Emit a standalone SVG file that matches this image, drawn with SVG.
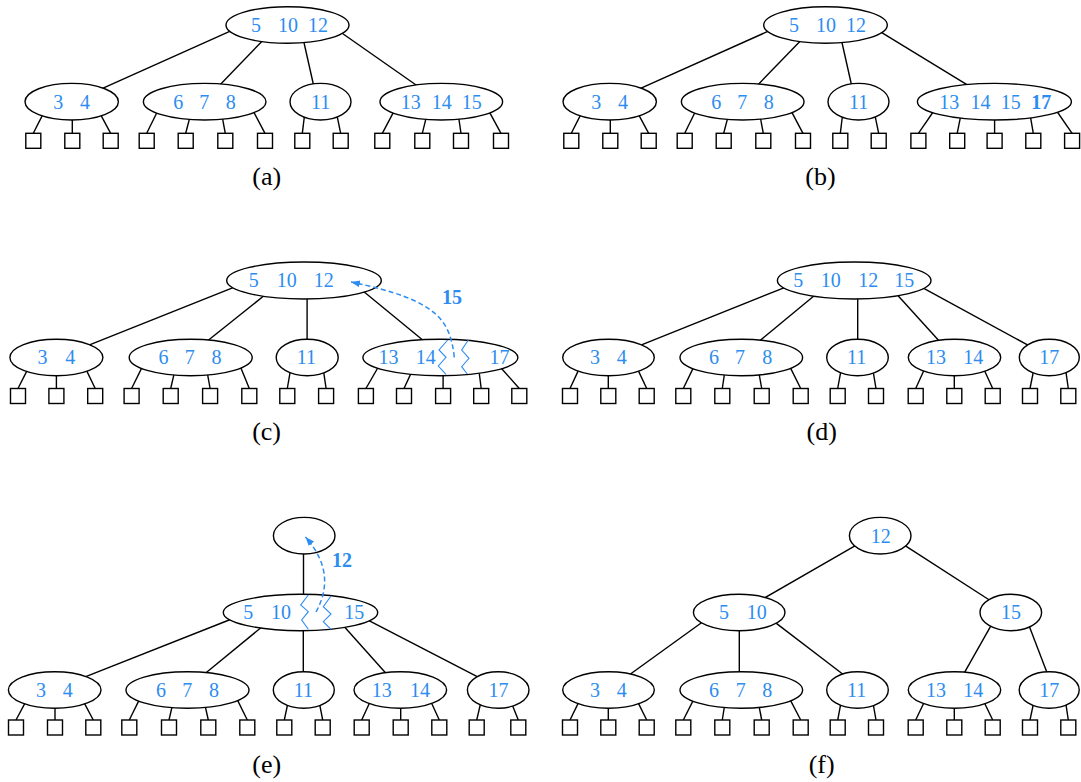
<svg xmlns="http://www.w3.org/2000/svg" width="1081" height="782" viewBox="0 0 1081 782">
<style>
.n{fill:#fff;stroke:#000;stroke-width:1.4}
.leaf{fill:#fff;stroke:#000;stroke-width:1.4}
.e{stroke:#000;stroke-width:1.4;fill:none}
.k{font-family:"Liberation Serif","Times New Roman",serif;font-size:20px;fill:#2d8cf0;text-anchor:middle}
.kb{font-weight:bold}
.lab{font-family:"Liberation Serif","Times New Roman",serif;font-size:26px;fill:#000;text-anchor:middle}
.zz{fill:none;stroke:#2d8cf0;stroke-width:1.1}
.da{fill:none;stroke:#2d8cf0;stroke-width:1.5;stroke-dasharray:5 3}
</style>
<defs>
<marker id="ah" markerUnits="userSpaceOnUse" markerWidth="10" markerHeight="8" refX="9" refY="3.5" orient="auto">
<path d="M0,0 L9,3.5 L0,7 z" fill="#2d8cf0"/>
</marker>
</defs>
<rect width="1081" height="782" fill="#fff"/>

<g id="connectors">
<!-- (a) -->
<line class="e" x1="231.4" y1="30.7" x2="100.3" y2="89.3"/>
<line class="e" x1="262.8" y1="40.4" x2="217.9" y2="86.9"/>
<line class="e" x1="303.4" y1="40" x2="314.2" y2="88"/>
<line class="e" x1="340" y1="31.7" x2="419.3" y2="87.3"/>
<line class="e" x1="43.5" y1="113.1" x2="33.3" y2="133.3"/>
<line class="e" x1="72.3" y1="116" x2="72.3" y2="133.3"/>
<line class="e" x1="99.8" y1="113.2" x2="110.7" y2="133.3"/>
<line class="e" x1="157.8" y1="110.7" x2="146.7" y2="133.3"/>
<line class="e" x1="190.3" y1="115.6" x2="185.7" y2="133.3"/>
<line class="e" x1="222" y1="115.6" x2="225.3" y2="133.3"/>
<line class="e" x1="253.1" y1="110.8" x2="265" y2="133.3"/>
<line class="e" x1="304.8" y1="113" x2="302.3" y2="133.3"/>
<line class="e" x1="336.5" y1="113.1" x2="340.7" y2="133.3"/>
<line class="e" x1="394.2" y1="110.8" x2="382.3" y2="133.3"/>
<line class="e" x1="426.7" y1="115.6" x2="422.3" y2="133.3"/>
<line class="e" x1="458.4" y1="115.5" x2="461" y2="133.3"/>
<line class="e" x1="488.8" y1="110.8" x2="501" y2="133.3"/>
<!-- (b) -->
<line class="e" x1="769.4" y1="30.7" x2="638.3" y2="89.3"/>
<line class="e" x1="800.8" y1="40.4" x2="755.9" y2="86.9"/>
<line class="e" x1="841.4" y1="40" x2="852.2" y2="88"/>
<line class="e" x1="879.3" y1="31.2" x2="971" y2="87.1"/>
<line class="e" x1="581.5" y1="113.1" x2="571.3" y2="133.3"/>
<line class="e" x1="610.3" y1="116" x2="610.3" y2="133.3"/>
<line class="e" x1="637.8" y1="113.2" x2="648.7" y2="133.3"/>
<line class="e" x1="695.8" y1="110.7" x2="684.7" y2="133.3"/>
<line class="e" x1="728.3" y1="115.6" x2="723.7" y2="133.3"/>
<line class="e" x1="760" y1="115.6" x2="763.3" y2="133.3"/>
<line class="e" x1="791.1" y1="110.8" x2="803" y2="133.3"/>
<line class="e" x1="842.8" y1="113" x2="840.3" y2="133.3"/>
<line class="e" x1="874.5" y1="113.1" x2="878.7" y2="133.3"/>
<line class="e" x1="934.5" y1="110" x2="918.4" y2="133.3"/>
<line class="e" x1="960.8" y1="115.4" x2="957.2" y2="133.3"/>
<line class="e" x1="994.6" y1="116" x2="994.6" y2="133.3"/>
<line class="e" x1="1030.2" y1="115.4" x2="1033.3" y2="133.3"/>
<line class="e" x1="1056" y1="110" x2="1072.1" y2="133.3"/>
<!-- (c) -->
<line class="e" x1="235" y1="286.8" x2="87" y2="345.8"/>
<line class="e" x1="265.2" y1="294.8" x2="206.4" y2="341.8"/>
<line class="e" x1="307.1" y1="295" x2="307.1" y2="343"/>
<line class="e" x1="362.1" y1="290.2" x2="424.8" y2="341.8"/>
<line class="e" x1="27.8" y1="369.1" x2="18" y2="388.5"/>
<line class="e" x1="56.4" y1="372" x2="56.4" y2="388.5"/>
<line class="e" x1="85.9" y1="369.1" x2="95.2" y2="388.5"/>
<line class="e" x1="143" y1="365.4" x2="131.6" y2="388.5"/>
<line class="e" x1="174.7" y1="371.1" x2="170.7" y2="388.5"/>
<line class="e" x1="207" y1="371.1" x2="210.1" y2="388.5"/>
<line class="e" x1="239.8" y1="365.3" x2="249.3" y2="388.5"/>
<line class="e" x1="290.8" y1="368.1" x2="287.3" y2="388.5"/>
<line class="e" x1="323.1" y1="368.1" x2="326.1" y2="388.5"/>
<line class="e" x1="378.6" y1="366.5" x2="365.9" y2="388.5"/>
<line class="e" x1="411.9" y1="371.4" x2="404" y2="388.5"/>
<line class="e" x1="443.1" y1="372" x2="443.1" y2="388.5"/>
<line class="e" x1="479" y1="371.1" x2="481.2" y2="388.5"/>
<line class="e" x1="499.7" y1="366.5" x2="519.3" y2="388.5"/>
<!-- (d) -->
<line class="e" x1="786.4" y1="286.8" x2="639" y2="345.8"/>
<line class="e" x1="815.4" y1="294.8" x2="757.6" y2="342.5"/>
<line class="e" x1="857.7" y1="295" x2="857.7" y2="343"/>
<line class="e" x1="896.3" y1="293.7" x2="941" y2="343"/>
<line class="e" x1="921.5" y1="287.1" x2="1031.2" y2="346.9"/>
<line class="e" x1="579" y1="369.1" x2="570" y2="388.5"/>
<line class="e" x1="608.3" y1="372" x2="608.3" y2="388.5"/>
<line class="e" x1="637.6" y1="369.1" x2="646.7" y2="388.5"/>
<line class="e" x1="694.5" y1="365.4" x2="683.3" y2="388.5"/>
<line class="e" x1="724.9" y1="371" x2="722.3" y2="388.5"/>
<line class="e" x1="758.6" y1="371.1" x2="761.7" y2="388.5"/>
<line class="e" x1="789.2" y1="365.4" x2="800.7" y2="388.5"/>
<line class="e" x1="841.4" y1="368.1" x2="837.7" y2="388.5"/>
<line class="e" x1="872.6" y1="368.1" x2="876" y2="388.5"/>
<line class="e" x1="925" y1="368" x2="915.7" y2="388.5"/>
<line class="e" x1="954.3" y1="372" x2="954.3" y2="388.5"/>
<line class="e" x1="983.3" y1="368" x2="992.7" y2="388.5"/>
<line class="e" x1="1034.1" y1="368.1" x2="1030" y2="388.5"/>
<line class="e" x1="1065.4" y1="368.1" x2="1068.3" y2="388.5"/>
<!-- (e) -->
<line class="e" x1="303.5" y1="550" x2="303.5" y2="598"/>
<line class="e" x1="230.4" y1="619.5" x2="82.6" y2="677.9"/>
<line class="e" x1="262.4" y1="626.5" x2="203.6" y2="674.8"/>
<line class="e" x1="303.3" y1="628" x2="303.3" y2="676"/>
<line class="e" x1="343" y1="625.3" x2="387.7" y2="675.3"/>
<line class="e" x1="367.5" y1="619.9" x2="481.1" y2="678.7"/>
<line class="e" x1="26.2" y1="700.8" x2="16" y2="720"/>
<line class="e" x1="55" y1="704" x2="55" y2="720"/>
<line class="e" x1="83.1" y1="700.8" x2="93.3" y2="720"/>
<line class="e" x1="140.1" y1="698.1" x2="129.3" y2="720"/>
<line class="e" x1="172.6" y1="704.4" x2="169" y2="720"/>
<line class="e" x1="204.8" y1="704.4" x2="208.3" y2="720"/>
<line class="e" x1="236.5" y1="698.1" x2="247.3" y2="720"/>
<line class="e" x1="288.1" y1="702.1" x2="284.3" y2="720"/>
<line class="e" x1="319.2" y1="702.1" x2="322.7" y2="720"/>
<line class="e" x1="371" y1="699.7" x2="361.7" y2="720"/>
<line class="e" x1="400.7" y1="704" x2="400.7" y2="720"/>
<line class="e" x1="430" y1="699.7" x2="439.3" y2="720"/>
<line class="e" x1="480.9" y1="702.1" x2="476.7" y2="720"/>
<line class="e" x1="511.2" y1="702.3" x2="518.3" y2="720"/>
<!-- (f) -->
<line class="e" x1="855.8" y1="545.3" x2="761.5" y2="599.7"/>
<line class="e" x1="904.3" y1="545.1" x2="991.7" y2="601.5"/>
<line class="e" x1="703.9" y1="621" x2="629.1" y2="675"/>
<line class="e" x1="739.3" y1="627" x2="739.3" y2="676"/>
<line class="e" x1="774.1" y1="621.6" x2="844.9" y2="675.7"/>
<line class="e" x1="992" y1="623.8" x2="963" y2="675.2"/>
<line class="e" x1="1028.6" y1="624.6" x2="1048.1" y2="675.4"/>
<line class="e" x1="579" y1="701.6" x2="570" y2="720"/>
<line class="e" x1="608.3" y1="704.5" x2="608.3" y2="720"/>
<line class="e" x1="637.6" y1="701.6" x2="646.7" y2="720"/>
<line class="e" x1="694.5" y1="697.9" x2="683.3" y2="720"/>
<line class="e" x1="724.9" y1="703.5" x2="722.3" y2="720"/>
<line class="e" x1="758.6" y1="703.6" x2="761.7" y2="720"/>
<line class="e" x1="789.2" y1="697.9" x2="800.7" y2="720"/>
<line class="e" x1="841.4" y1="700.6" x2="837.7" y2="720"/>
<line class="e" x1="872.6" y1="700.6" x2="876" y2="720"/>
<line class="e" x1="925" y1="700.5" x2="915.7" y2="720"/>
<line class="e" x1="954.3" y1="704.5" x2="954.3" y2="720"/>
<line class="e" x1="983.3" y1="700.5" x2="992.7" y2="720"/>
<line class="e" x1="1034.1" y1="700.6" x2="1030" y2="720"/>
<line class="e" x1="1065.4" y1="700.6" x2="1068.3" y2="720"/>
</g>

<!-- ===== (a) nodes ===== -->
<g id="a-root"><ellipse class="n" cx="287.5" cy="25" rx="61.5" ry="18.3"/><text class="k" x="256" y="31.8">5</text><text class="k" x="288" y="31.8">10</text><text class="k" x="318" y="31.8">12</text></g>
<g id="a-n1"><ellipse class="n" cx="71.7" cy="101.7" rx="46.7" ry="18.3"/><text class="k" x="58.3" y="108.5">3</text><text class="k" x="85" y="108.5">4</text></g>
<g id="a-n2"><ellipse class="n" cx="204.7" cy="101.7" rx="61.3" ry="18.3"/><text class="k" x="178.3" y="108.5">6</text><text class="k" x="204.3" y="108.5">7</text><text class="k" x="230.7" y="108.5">8</text></g>
<g id="a-n3"><ellipse class="n" cx="320.5" cy="101.7" rx="30.5" ry="18.3"/><text class="k" x="320.7" y="108.5">11</text></g>
<g id="a-n4"><ellipse class="n" cx="441.3" cy="101.7" rx="61.3" ry="18.3"/><text class="k" x="410.7" y="108.5">13</text><text class="k" x="441.7" y="108.5">14</text><text class="k" x="471.7" y="108.5">15</text></g>
<g id="a-l1"><rect class="leaf" x="25.8" y="133.3" width="15" height="15"/></g>
<g id="a-l2"><rect class="leaf" x="64.8" y="133.3" width="15" height="15"/></g>
<g id="a-l3"><rect class="leaf" x="103.2" y="133.3" width="15" height="15"/></g>
<g id="a-l4"><rect class="leaf" x="139.2" y="133.3" width="15" height="15"/></g>
<g id="a-l5"><rect class="leaf" x="178.2" y="133.3" width="15" height="15"/></g>
<g id="a-l6"><rect class="leaf" x="217.8" y="133.3" width="15" height="15"/></g>
<g id="a-l7"><rect class="leaf" x="257.5" y="133.3" width="15" height="15"/></g>
<g id="a-l8"><rect class="leaf" x="294.8" y="133.3" width="15" height="15"/></g>
<g id="a-l9"><rect class="leaf" x="333.2" y="133.3" width="15" height="15"/></g>
<g id="a-l10"><rect class="leaf" x="374.8" y="133.3" width="15" height="15"/></g>
<g id="a-l11"><rect class="leaf" x="414.8" y="133.3" width="15" height="15"/></g>
<g id="a-l12"><rect class="leaf" x="453.5" y="133.3" width="15" height="15"/></g>
<g id="a-l13"><rect class="leaf" x="493.5" y="133.3" width="15" height="15"/></g>
<g id="a-label"><text class="lab" x="266.7" y="184.5">(a)</text></g>

<!-- ===== (b) nodes ===== -->
<g id="b-root"><ellipse class="n" cx="825.5" cy="25" rx="61.8" ry="18.3"/><text class="k" x="794" y="31.8">5</text><text class="k" x="826" y="31.8">10</text><text class="k" x="856" y="31.8">12</text></g>
<g id="b-n1"><ellipse class="n" cx="609.7" cy="101.7" rx="46.7" ry="18.3"/><text class="k" x="596.3" y="108.5">3</text><text class="k" x="623" y="108.5">4</text></g>
<g id="b-n2"><ellipse class="n" cx="742.7" cy="101.7" rx="61.3" ry="18.3"/><text class="k" x="716.3" y="108.5">6</text><text class="k" x="742.3" y="108.5">7</text><text class="k" x="768.7" y="108.5">8</text></g>
<g id="b-n3"><ellipse class="n" cx="858.5" cy="101.7" rx="30.5" ry="18.3"/><text class="k" x="858.7" y="108.5">11</text></g>
<g id="b-n4"><ellipse class="n" cx="994.4" cy="101.7" rx="77" ry="18.3"/><text class="k" x="949.2" y="108.5">13</text><text class="k" x="980.4" y="108.5">14</text><text class="k" x="1010.8" y="108.5">15</text><text class="k kb" x="1041.3" y="108.5">17</text></g>
<g id="b-l1"><rect class="leaf" x="563.8" y="133.3" width="15" height="15"/></g>
<g id="b-l2"><rect class="leaf" x="602.8" y="133.3" width="15" height="15"/></g>
<g id="b-l3"><rect class="leaf" x="641.2" y="133.3" width="15" height="15"/></g>
<g id="b-l4"><rect class="leaf" x="677.2" y="133.3" width="15" height="15"/></g>
<g id="b-l5"><rect class="leaf" x="716.2" y="133.3" width="15" height="15"/></g>
<g id="b-l6"><rect class="leaf" x="755.8" y="133.3" width="15" height="15"/></g>
<g id="b-l7"><rect class="leaf" x="795.5" y="133.3" width="15" height="15"/></g>
<g id="b-l8"><rect class="leaf" x="832.8" y="133.3" width="15" height="15"/></g>
<g id="b-l9"><rect class="leaf" x="871.2" y="133.3" width="15" height="15"/></g>
<g id="b-l10"><rect class="leaf" x="910.9" y="133.3" width="15" height="15"/></g>
<g id="b-l11"><rect class="leaf" x="949.7" y="133.3" width="15" height="15"/></g>
<g id="b-l12"><rect class="leaf" x="987.1" y="133.3" width="15" height="15"/></g>
<g id="b-l13"><rect class="leaf" x="1025.8" y="133.3" width="15" height="15"/></g>
<g id="b-l14"><rect class="leaf" x="1064.6" y="133.3" width="15" height="15"/></g>
<g id="b-label"><text class="lab" x="820.4" y="184.5">(b)</text></g>

<!-- ===== (c) nodes ===== -->
<g id="c-root"><ellipse class="n" cx="304" cy="280.5" rx="77.3" ry="18.5"/><text class="k" x="253.8" y="287.3">5</text><text class="k" x="286.7" y="287.3">10</text><text class="k" x="323.7" y="287.3">12</text></g>
<g id="c-n1"><ellipse class="n" cx="56.4" cy="357.5" rx="46.5" ry="18.3"/><text class="k" x="42.6" y="364.3">3</text><text class="k" x="70.3" y="364.3">4</text></g>
<g id="c-n2"><ellipse class="n" cx="190.7" cy="357.5" rx="61.5" ry="18.3"/><text class="k" x="163.4" y="364.3">6</text><text class="k" x="189.7" y="364.3">7</text><text class="k" x="216.4" y="364.3">8</text></g>
<g id="c-n3"><ellipse class="n" cx="307.2" cy="357.5" rx="31" ry="18.3"/><text class="k" x="306.4" y="364.3">11</text></g>
<g id="c-n4"><ellipse class="n" cx="440.4" cy="357.5" rx="77.5" ry="18.3"/><text class="k" x="388.4" y="364.3">13</text><text class="k" x="425.8" y="364.3">14</text><text class="k" x="499.6" y="364.3">17</text></g>
<g id="c-l1"><rect class="leaf" x="10.5" y="388.5" width="15" height="15"/></g>
<g id="c-l2"><rect class="leaf" x="48.9" y="388.5" width="15" height="15"/></g>
<g id="c-l3"><rect class="leaf" x="87.7" y="388.5" width="15" height="15"/></g>
<g id="c-l4"><rect class="leaf" x="124.1" y="388.5" width="15" height="15"/></g>
<g id="c-l5"><rect class="leaf" x="163.2" y="388.5" width="15" height="15"/></g>
<g id="c-l6"><rect class="leaf" x="202.6" y="388.5" width="15" height="15"/></g>
<g id="c-l7"><rect class="leaf" x="241.8" y="388.5" width="15" height="15"/></g>
<g id="c-l8"><rect class="leaf" x="279.8" y="388.5" width="15" height="15"/></g>
<g id="c-l9"><rect class="leaf" x="318.6" y="388.5" width="15" height="15"/></g>
<g id="c-l10"><rect class="leaf" x="358.4" y="388.5" width="15" height="15"/></g>
<g id="c-l11"><rect class="leaf" x="396.5" y="388.5" width="15" height="15"/></g>
<g id="c-l12"><rect class="leaf" x="435.6" y="388.5" width="15" height="15"/></g>
<g id="c-l13"><rect class="leaf" x="473.7" y="388.5" width="15" height="15"/></g>
<g id="c-l14"><rect class="leaf" x="511.8" y="388.5" width="15" height="15"/></g>
<g id="c-label"><text class="lab" x="266.6" y="440">(c)</text></g>

<!-- ===== (d) nodes ===== -->
<g id="d-root"><ellipse class="n" cx="854.2" cy="280.5" rx="76.8" ry="18.5"/><text class="k" x="798.3" y="287.3">5</text><text class="k" x="830.7" y="287.3">10</text><text class="k" x="868.3" y="287.3">12</text><text class="k" x="904.3" y="287.3">15</text></g>
<g id="d-n1"><ellipse class="n" cx="608.5" cy="357.5" rx="45.8" ry="18.3"/><text class="k" x="595" y="364.3">3</text><text class="k" x="621.7" y="364.3">4</text></g>
<g id="d-n2"><ellipse class="n" cx="741.3" cy="357.5" rx="61.3" ry="18.3"/><text class="k" x="714" y="364.3">6</text><text class="k" x="740" y="364.3">7</text><text class="k" x="767.3" y="364.3">8</text></g>
<g id="d-n3"><ellipse class="n" cx="857.5" cy="357.5" rx="30.8" ry="18.3"/><text class="k" x="856.7" y="364.3">11</text></g>
<g id="d-n4"><ellipse class="n" cx="954.5" cy="357.5" rx="46.2" ry="18.3"/><text class="k" x="936" y="364.3">13</text><text class="k" x="973.3" y="364.3">14</text></g>
<g id="d-n5"><ellipse class="n" cx="1049.3" cy="357.5" rx="30" ry="18.3"/><text class="k" x="1049.3" y="364.3">17</text></g>
<g id="d-l1"><rect class="leaf" x="562.5" y="388.5" width="15" height="15"/></g>
<g id="d-l2"><rect class="leaf" x="600.8" y="388.5" width="15" height="15"/></g>
<g id="d-l3"><rect class="leaf" x="639.2" y="388.5" width="15" height="15"/></g>
<g id="d-l4"><rect class="leaf" x="675.8" y="388.5" width="15" height="15"/></g>
<g id="d-l5"><rect class="leaf" x="714.8" y="388.5" width="15" height="15"/></g>
<g id="d-l6"><rect class="leaf" x="754.2" y="388.5" width="15" height="15"/></g>
<g id="d-l7"><rect class="leaf" x="793.2" y="388.5" width="15" height="15"/></g>
<g id="d-l8"><rect class="leaf" x="830.2" y="388.5" width="15" height="15"/></g>
<g id="d-l9"><rect class="leaf" x="868.5" y="388.5" width="15" height="15"/></g>
<g id="d-l10"><rect class="leaf" x="908.2" y="388.5" width="15" height="15"/></g>
<g id="d-l11"><rect class="leaf" x="946.8" y="388.5" width="15" height="15"/></g>
<g id="d-l12"><rect class="leaf" x="985.2" y="388.5" width="15" height="15"/></g>
<g id="d-l13"><rect class="leaf" x="1022.5" y="388.5" width="15" height="15"/></g>
<g id="d-l14"><rect class="leaf" x="1060.8" y="388.5" width="15" height="15"/></g>
<g id="d-label"><text class="lab" x="821.7" y="440">(d)</text></g>

<!-- ===== (e) nodes ===== -->
<g id="e-top"><ellipse class="n" cx="304.2" cy="535.7" rx="30.8" ry="18.3"/></g>
<g id="e-mid"><ellipse class="n" cx="300.5" cy="612.5" rx="77.2" ry="18.2"/><text class="k" x="248.3" y="619.3">5</text><text class="k" x="281" y="619.3">10</text><text class="k" x="354.3" y="619.3">15</text></g>
<g id="e-n1"><ellipse class="n" cx="54.7" cy="690" rx="46.3" ry="18.3"/><text class="k" x="41" y="696.8">3</text><text class="k" x="67.7" y="696.8">4</text></g>
<g id="e-n2"><ellipse class="n" cx="187.5" cy="690" rx="61.5" ry="18.3"/><text class="k" x="161" y="696.8">6</text><text class="k" x="187.3" y="696.8">7</text><text class="k" x="214" y="696.8">8</text></g>
<g id="e-n3"><ellipse class="n" cx="303.8" cy="690" rx="30.5" ry="18.3"/><text class="k" x="303.3" y="696.8">11</text></g>
<g id="e-n4"><ellipse class="n" cx="400.3" cy="690" rx="46.3" ry="18.3"/><text class="k" x="381.7" y="696.8">13</text><text class="k" x="420" y="696.8">14</text></g>
<g id="e-n5"><ellipse class="n" cx="498.2" cy="690" rx="30.8" ry="18.3"/><text class="k" x="498.5" y="696.8">17</text></g>
<g id="e-l1"><rect class="leaf" x="8.5" y="720" width="15" height="15"/></g>
<g id="e-l2"><rect class="leaf" x="47.5" y="720" width="15" height="15"/></g>
<g id="e-l3"><rect class="leaf" x="85.8" y="720" width="15" height="15"/></g>
<g id="e-l4"><rect class="leaf" x="121.8" y="720" width="15" height="15"/></g>
<g id="e-l5"><rect class="leaf" x="161.5" y="720" width="15" height="15"/></g>
<g id="e-l6"><rect class="leaf" x="200.8" y="720" width="15" height="15"/></g>
<g id="e-l7"><rect class="leaf" x="239.8" y="720" width="15" height="15"/></g>
<g id="e-l8"><rect class="leaf" x="276.8" y="720" width="15" height="15"/></g>
<g id="e-l9"><rect class="leaf" x="315.2" y="720" width="15" height="15"/></g>
<g id="e-l10"><rect class="leaf" x="354.2" y="720" width="15" height="15"/></g>
<g id="e-l11"><rect class="leaf" x="393.2" y="720" width="15" height="15"/></g>
<g id="e-l12"><rect class="leaf" x="431.8" y="720" width="15" height="15"/></g>
<g id="e-l13"><rect class="leaf" x="469.2" y="720" width="15" height="15"/></g>
<g id="e-l14"><rect class="leaf" x="510.8" y="720" width="15" height="15"/></g>
<g id="e-label"><text class="lab" x="266.7" y="772.5">(e)</text></g>

<!-- ===== (f) nodes ===== -->
<g id="f-root"><ellipse class="n" cx="880.2" cy="535.7" rx="30.8" ry="18.3"/><text class="k" x="880.7" y="542.5">12</text></g>
<g id="f-m1"><ellipse class="n" cx="739.2" cy="612.5" rx="45.8" ry="18.2"/><text class="k" x="724" y="619.3">5</text><text class="k" x="756.7" y="619.3">10</text></g>
<g id="f-m2"><ellipse class="n" cx="1010.8" cy="612.5" rx="30.8" ry="18.2"/><text class="k" x="1011" y="619.3">15</text></g>
<g id="f-n1"><ellipse class="n" cx="608.5" cy="690" rx="45.8" ry="18.3"/><text class="k" x="595" y="696.8">3</text><text class="k" x="621.7" y="696.8">4</text></g>
<g id="f-n2"><ellipse class="n" cx="741.3" cy="690" rx="61.3" ry="18.3"/><text class="k" x="714" y="696.8">6</text><text class="k" x="740.7" y="696.8">7</text><text class="k" x="767.3" y="696.8">8</text></g>
<g id="f-n3"><ellipse class="n" cx="857.5" cy="690" rx="30.8" ry="18.3"/><text class="k" x="856.7" y="696.8">11</text></g>
<g id="f-n4"><ellipse class="n" cx="954.5" cy="690" rx="46.2" ry="18.3"/><text class="k" x="936" y="696.8">13</text><text class="k" x="973.3" y="696.8">14</text></g>
<g id="f-n5"><ellipse class="n" cx="1049.2" cy="690" rx="30" ry="18.3"/><text class="k" x="1049.3" y="696.8">17</text></g>
<g id="f-l1"><rect class="leaf" x="562.5" y="720" width="15" height="15"/></g>
<g id="f-l2"><rect class="leaf" x="600.8" y="720" width="15" height="15"/></g>
<g id="f-l3"><rect class="leaf" x="639.2" y="720" width="15" height="15"/></g>
<g id="f-l4"><rect class="leaf" x="675.8" y="720" width="15" height="15"/></g>
<g id="f-l5"><rect class="leaf" x="714.8" y="720" width="15" height="15"/></g>
<g id="f-l6"><rect class="leaf" x="754.2" y="720" width="15" height="15"/></g>
<g id="f-l7"><rect class="leaf" x="793.2" y="720" width="15" height="15"/></g>
<g id="f-l8"><rect class="leaf" x="830.2" y="720" width="15" height="15"/></g>
<g id="f-l9"><rect class="leaf" x="868.5" y="720" width="15" height="15"/></g>
<g id="f-l10"><rect class="leaf" x="908.2" y="720" width="15" height="15"/></g>
<g id="f-l11"><rect class="leaf" x="946.8" y="720" width="15" height="15"/></g>
<g id="f-l12"><rect class="leaf" x="985.2" y="720" width="15" height="15"/></g>
<g id="f-l13"><rect class="leaf" x="1022.5" y="720" width="15" height="15"/></g>
<g id="f-l14"><rect class="leaf" x="1060.8" y="720" width="15" height="15"/></g>
<g id="f-label"><text class="lab" x="821.7" y="772.5">(f)</text></g>

<!-- ===== split annotations ===== -->
<g id="c-split">
<polyline class="zz" points="447.7,340 439,350 446,357.3 438.3,366 446,374.3"/>
<polyline class="zz" points="468.3,340 461.7,350 469,358.3 461.7,366.7 467.3,374"/>
<path class="da" d="M454.3,357.3 C450,320 438,300 351,282" marker-end="url(#ah)"/>
<text class="k kb" x="452" y="303.5">15</text>
</g>
<g id="e-split">
<polyline class="zz" points="308.3,595 300.7,605 308.3,611.7 301.7,620 308.3,629.3"/>
<polyline class="zz" points="331,596 323.3,606.7 331,614 323.3,621.7 331,629.3"/>
<path class="da" d="M316,612 C328,590 330,565 305.5,537" marker-end="url(#ah)"/>
<text class="k kb" x="342" y="567">12</text>
</g>
</svg>
